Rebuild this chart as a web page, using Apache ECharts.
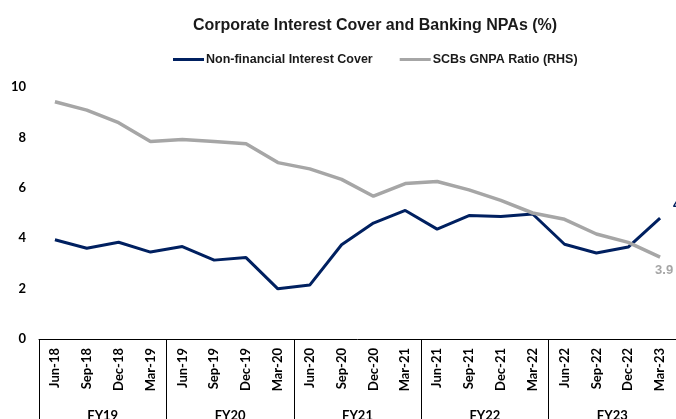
<!DOCTYPE html>
<html>
<head>
<meta charset="utf-8">
<script src="https://cdn.jsdelivr.net/npm/echarts@6/dist/echarts.min.js"></script>
<style>html,body{margin:0;padding:0;background:#fff;}#c{width:676px;height:419px;}</style>
</head>
<body>
<div id="c"></div>
<script>
var categories = ['Jun-18','Sep-18','Dec-18','Mar-19','Jun-19','Sep-19','Dec-19','Mar-20','Jun-20','Sep-20','Dec-20','Mar-21','Jun-21','Sep-21','Dec-21','Mar-22','Jun-22','Sep-22','Dec-22','Mar-23'];
var fiscalYears = ['FY19','FY20','FY21','FY22','FY23'];
var interestCover = [3.94,3.6,3.84,3.45,3.67,3.13,3.23,1.99,2.14,3.74,4.6,5.1,4.36,4.9,4.86,4.96,3.76,3.41,3.65,4.8];
var gnpaRatio = [11.3,10.9,10.3,9.4,9.5,9.4,9.3,8.4,8.1,7.6,6.8,7.4,7.5,7.1,6.6,6.0,5.7,5.0,4.6,3.9];
var leftTicks = [0,2,4,6,8,10];

var FONT = 'Lato, "Liberation Sans", sans-serif';
var SANS = '"Liberation Sans", Arial, sans-serif';
var chart = echarts.init(document.getElementById('c'), null, {renderer:'canvas'});

chart.setOption({
  animation: false,
  backgroundColor: '#fff',
  title: {
    text: 'Corporate Interest Cover and Banking NPAs (%)',
    left: 370, top: 13, textAlign: 'center',
    textStyle: {fontFamily: SANS, fontSize: 16, fontWeight: 'bold', color: '#1a1a1a'}
  },
  legend: {
    top: 48, left: 168,
    icon: 'rect', itemWidth: 31, itemHeight: 3, itemGap: 27,
    textStyle: {fontFamily: SANS, fontSize: 12.5, fontWeight: 'bold', color: '#1a1a1a', padding: [0,0,0,-3]},
    data: ['Non-financial Interest Cover', 'SCBs GNPA Ratio (RHS)']
  },
  grid: {left: 39, right: 0, top: 87, bottom: 80, containLabel: false, outerBoundsMode: 'none'},
  xAxis: [
    {
      type: 'category', data: categories, position: 'bottom',
      axisLine: {show: true, lineStyle: {color: '#000', width: 1}},
      axisTick: {show: false},
      axisLabel: {rotate: 90, margin: 9, interval: 0, fontFamily: FONT, fontSize: 13, fontWeight: 'bold', color: '#000'}
    },
    {
      type: 'category', data: fiscalYears, position: 'bottom',
      axisLine: {show: false},
      axisTick: {show: true, length: 90, lineStyle: {color: '#000', width: 1}},
      axisLabel: {margin: 70, interval: 0, fontFamily: FONT, fontSize: 13, fontWeight: 'bold', color: '#000'}
    }
  ],
  yAxis: [
    {
      type: 'value', min: leftTicks[0], max: leftTicks[leftTicks.length-1], interval: 2,
      axisLine: {show: false}, axisTick: {show: false}, splitLine: {show: false},
      axisLabel: {margin: 13, fontFamily: FONT, fontSize: 13, fontWeight: 'bold', color: '#000'}
    },
    {
      type: 'value', min: 0, max: 12, show: false
    }
  ],
  series: [
    {
      name: 'Non-financial Interest Cover', type: 'line', xAxisIndex: 0, yAxisIndex: 0,
      symbol: 'none', color: '#002060',
      lineStyle: {color: '#002060', width: 3},
      endLabel: {show: true, distance: 5, offset: [8, -13],
        fontFamily: SANS, fontSize: 14, fontWeight: 'bold', color: '#002060'},
      data: interestCover
    },
    {
      name: 'SCBs GNPA Ratio (RHS)', type: 'line', xAxisIndex: 0, yAxisIndex: 1,
      symbol: 'none', color: '#A6A6A6',
      lineStyle: {color: '#A6A6A6', width: 3.5},
      endLabel: {show: true, distance: 5, offset: [-10, 13],
        fontFamily: SANS, fontSize: 13, fontWeight: 'bold', color: '#A6A6A6'},
      data: gnpaRatio
    }
  ]
});
</script>
</body>
</html>
